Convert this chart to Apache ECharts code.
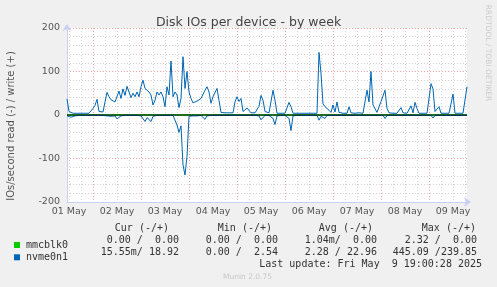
<!DOCTYPE html>
<html><head><meta charset="utf-8">
<script src="https://cdn.jsdelivr.net/npm/echarts@6/dist/echarts.min.js"></script>
<style>html,body{margin:0;padding:0;background:#f0f0f0}#c{width:497px;height:287px}</style>
</head><body><div id="c"></div>
<script>
// ---- data ----
const titleText = 'Disk IOs per device - by week';
const yAxisTitle = 'IOs/second read (-) / write (+)';
const dayLabels = ['01 May','02 May','03 May','04 May','05 May','06 May','07 May','08 May','09 May'];
const dayLabelHours = [12,36,60,84,108,132,156,180,204];   // hours since 01 May 00:00 (noon of each day)
const midnightHours = [24,48,72,96,120,144,168,192];
const sixHourTicks = [12,18,24,30,36,42,48,54,60,66,72,78,84,90,96,102,108,114,120,126,132,138,144,150,156,162,168,174,180,186,192,198,204,210];
const startHour = 11;   // 01 May 11:00
const endHour = 211;    // 09 May 19:00
const stepHours = 1;
const seriesNames = ['mmcblk0','nvme0n1'];

// nvme0n1 writes (IO/s), one value per hour from 01 May 11:00
const nvmeWrite = [
 37,8,5,4,5,4,4,4,4,4, 4,4,5,15,22,36,8,6,7,30,
 52,42,35,38,30,34,55,38,60,45, 66,68,40,50,42,53,42,65,80,61,
 65,53,46,23,34,53,46,53,42,19, 65,46,124,42,53,46,17,38,134,61,
 100,53,38,28,24,32,28,38,34,57, 65,53,27,42,42,61,34,6,5,5,
 5,5,5,5,30,42,31,38,8,5, 16,20,5,5,5,5,20,45,34,8,
 5,5,5,57,34,4,4,4,4,4, 4,29,19,4,4,4,4,4,4,4,
 4,4,4,4,4,4,144,95,26,19, 23,11,6,23,7,30,6,4,4,4,
 4,19,5,4,4,4,5,4,4,4, 57,30,100,23,23,6,8,31,32,57,
 15,5,8,4,4,4,4,17,5,4, 4,4,21,5,29,15,4,4,4,4,
 4,4,72,60,8,10,19,4,4,4, 4,4,4,48,4,4,4,4,4,4,
 65
];
// nvme0n1 reads (IO/s), plotted below zero
const nvmeRead = [
 2,3,5,1,2,1,1,2,1,1, 1,1,1,1,1,2,1,1,1,1,
 2,1,3,1,2,9,11,2,1,1, 2,1,1,1,2,1,1,2,1,15,
 6,2,15,3,7,1,1,1,2,1, 1,1,2,1,1,23,40,25,115,138,
 95,3,2,2,1,2,1,1,2,10, 2,1,1,1,1,1,1,1,1,1,
 1,1,1,1,1,1,1,1,1,1, 1,1,1,1,1,3,2,11,9,1,
 1,1,1,8,22,2,1,1,1,1, 1,8,36,2,1,1,1,1,1,1,
 1,1,1,1,1,1,12,3,1,8, 1,1,1,1,1,1,1,1,1,1,
 1,1,1,1,1,1,1,1,1,1, 1,1,1,1,1,1,1,1,1,8,
 1,1,1,1,1,1,1,1,1,1, 1,1,1,1,1,1,1,1,1,1,
 1,1,1,7,1,1,1,1,1,1, 1,1,1,1,1,1,1,1,1,1,
 1
];
// mmcblk0 (essentially idle)
const mmcHours = [11, 211];
const mmcWrite = [0, 0];
const mmcRead = [0, 0];
// zero rule
const zeroRule = [[11, 0], [211, 0]];

const statHeaders = ['Cur (-/+)','Min (-/+)','Avg (-/+)','Max (-/+)'];
const statRows = [
  ['0.00 /  0.00','0.00 /  0.00','1.04m/  0.00','2.32 /  0.00'],
  ['15.55m/ 18.92','0.00 /  2.54','2.28 / 22.96','445.09 /239.85']
];
const lastUpdate = 'Last update: Fri May  9 19:00:28 2025';
const footer = 'Munin 2.0.75';
const sideText = 'RRDTOOL / TOBI OETIKER';

// ---- build ----
const toPairs = (vals, sign) => vals.map((v, i) => [startHour + i * stepHours, sign * v]);
const mmcPairs = (vals, sign) => vals.map((v, i) => [mmcHours[i], sign * v]);

const COL_NVME = '#0066b3', COL_MMC = '#00cc00';
const minorLine = {show:true, lineStyle:{color:'#d4d4d4', type:[1,2], width:1}};
const majorLine = {show:true, lineStyle:{color:'#f1a3a3', type:[1,2], width:1}};
const axisCol = '#c9cff4';
const labelFont = 'DejaVu Sans';
const mono = 'DejaVu Sans Mono';

const chart = echarts.init(document.getElementById('c'), null, {renderer:'canvas'});

const colRight = [179, 278, 377, 477];
const headRight = [169, 272, 373, 476];
const graphics = [];
statHeaders.forEach((h, k) => graphics.push({type:'text', x: headRight[k], y: 228.5, style:{text:h, font:'10px "DejaVu Sans Mono"', fill:'#333', align:'right', verticalAlign:'middle'}}));
statRows.forEach((row, r) => row.forEach((t, k) => graphics.push({type:'text', x: colRight[k], y: 240 + r*12.3, style:{text:t, font:'10px "DejaVu Sans Mono"', fill:'#333', align:'right', verticalAlign:'middle'}})));
graphics.push({type:'text', x: 482, y: 264.5, style:{text:lastUpdate, font:'10px "DejaVu Sans Mono"', fill:'#333', align:'right', verticalAlign:'middle'}});
graphics.push({type:'text', x: 247.5, y: 277, style:{text:footer, font:'7.5px "DejaVu Sans"', fill:'#c8c8c8', align:'center', verticalAlign:'middle'}});
graphics.push({type:'text', x: 488, y: 53, rotation: -Math.PI/2, style:{text:sideText, font:'7.5px "DejaVu Sans"', fill:'#cccccc', align:'center', verticalAlign:'middle'}});
graphics.push({type:'text', x: 11, y: 126, rotation: Math.PI/2, style:{text:yAxisTitle, font:'10px "DejaVu Sans"', fill:'#555', align:'center', verticalAlign:'middle'}});

const lineSeries = (name, data, color, z, width) => ({
  name, type:'line', data, xAxisIndex:0, yAxisIndex:0, showSymbol:false, symbol:'none',
  lineStyle:{color, width: width || 1}, itemStyle:{color}, z, animation:false, silent:true
});

const option = {
  backgroundColor:'#f0f0f0',
  animation:false,
  title:{text:titleText, left:'center', top:11, textStyle:{fontFamily:labelFont, fontSize:12.5, fontWeight:'normal', color:'#444'}},
  legend:{
    data:seriesNames, orient:'vertical', left:9, top:234, itemWidth:6, itemHeight:6, itemGap:0.3,
    icon:'rect', selectedMode:false,
    textStyle:{fontFamily:mono, fontSize:10, color:'#333', lineHeight:12, padding:[0,0,0,1]}
  },
  grid:{left:67, top:28, width:400, height:174, show:true, backgroundColor:'#ffffff', borderWidth:0},
  xAxis:[
    {type:'value', position:'bottom', min:startHour, max:endHour, axisLine:{show:false}, axisTick:{show:false, customValues:sixHourTicks}, axisLabel:{show:false}, splitLine:minorLine},
    {type:'value', position:'bottom', min:startHour, max:endHour, axisLine:{show:false}, axisTick:{show:false, customValues:midnightHours}, axisLabel:{show:false}, splitLine:majorLine},
    {type:'value', position:'bottom', min:startHour, max:endHour,
      axisLine:{show:true, lineStyle:{color:axisCol, width:1}, symbol:['none','arrow'], symbolSize:[7,7], symbolOffset:[0,4]},
      axisTick:{show:false, customValues:dayLabelHours},
      axisLabel:{show:true, customValues:dayLabelHours, margin:5, fontFamily:labelFont, fontSize:9.5, color:'#555',
        formatter:(v)=>{const k = dayLabelHours.indexOf(Math.round(v)); return k>=0?dayLabels[k]:'';}},
      splitLine:{show:false}}
  ],
  yAxis:[
    {type:'value', position:'left', min:-200, max:200, interval:20, axisLine:{show:false}, axisTick:{show:false}, axisLabel:{show:false}, splitLine:minorLine},
    {type:'value', position:'left', min:-200, max:200, interval:100,
      axisLine:{show:true, onZero:false, lineStyle:{color:axisCol, width:1}, symbol:['none','arrow'], symbolSize:[7,7], symbolOffset:[0,4]},
      axisTick:{show:false},
      axisLabel:{show:true, margin:7, fontFamily:labelFont, fontSize:9.5, color:'#555'},
      splitLine:majorLine}
  ],
  graphic:{elements:graphics},
  series:[
    lineSeries('mmcblk0', mmcPairs(mmcWrite, 1), COL_MMC, 1),
    lineSeries('mmcblk0', mmcPairs(mmcRead, -1), COL_MMC, 1),
    lineSeries('nvme0n1', toPairs(nvmeRead, -1), COL_NVME, 3),
    lineSeries('nvme0n1', toPairs(nvmeWrite, 1), COL_NVME, 3),
    lineSeries('zero', zeroRule, '#000000', 6, 1.2)
  ]
};
chart.setOption(option);
</script></body></html>
